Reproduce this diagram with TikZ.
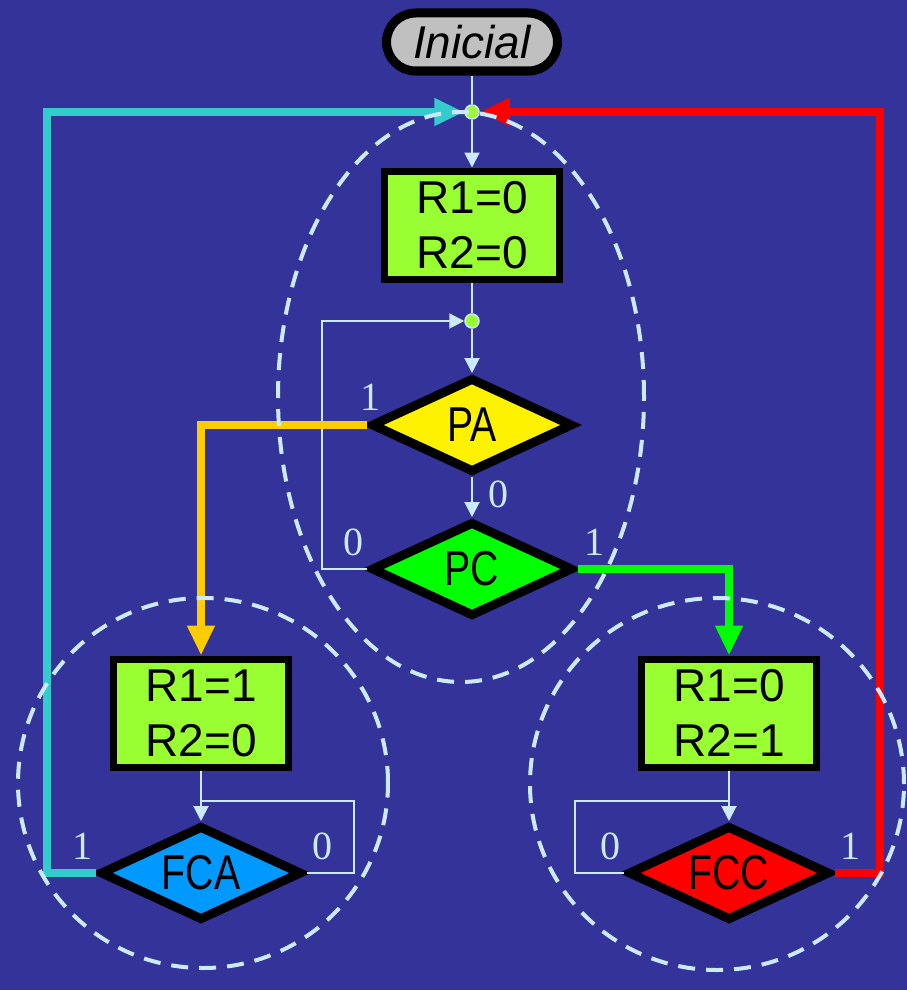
\documentclass[tikz,border=0pt]{standalone}
\usepackage{fontspec}
\setmainfont{Liberation Sans}
\newfontfamily\narrowf[FakeStretch=0.8]{Liberation Sans}
\newfontfamily\serifnum{Liberation Serif}
\usetikzlibrary{shapes.geometric,arrows.meta}
\definecolor{bg}{RGB}{51,51,153}
\definecolor{lblue}{RGB}{204,234,255}
\definecolor{boxgreen}{RGB}{153,255,51}
\definecolor{dotgreen}{RGB}{153,255,51}
\definecolor{pagreen}{RGB}{0,255,0}
\definecolor{fcablue}{RGB}{0,153,255}
\definecolor{tealc}{RGB}{51,204,204}
\definecolor{orangec}{RGB}{255,204,0}
\definecolor{silverc}{RGB}{192,192,192}
\begin{document}
\begin{tikzpicture}[x=1pt,y=-1pt,
  statebox/.style={draw=black, line width=7pt, fill=boxgreen, minimum width=175pt, minimum height=108pt, inner sep=0pt, align=center, font=\fontsize{46}{55}\selectfont},
  dec/.style={diamond, aspect=2.2, draw=black, line width=9pt, minimum width=202pt, minimum height=95pt, inner sep=0pt, font=\narrowf\fontsize{49}{49}\selectfont},
  lbl/.style={text=lblue, font=\serifnum\fontsize{40}{40}\selectfont, inner sep=0pt},
  dot/.style={circle, fill=dotgreen, draw=lblue, line width=1.5pt, minimum size=14pt, inner sep=0pt},
  thinln/.style={draw=lblue, line width=2pt},
  thinarr/.style={thinln, -{Triangle[length=15pt,width=15pt]}},
  thickln/.style={line width=8.5pt, line join=miter},
  dashln/.style={draw=lblue, line width=4pt, dash pattern=on 17pt off 11pt}
]
\fill[bg] (0,0) rectangle (907,990);
\useasboundingbox (0,0) rectangle (907,990);

% nodes
\node[draw=black, line width=9pt, fill=silverc, minimum width=171pt, minimum height=58pt, rounded corners=29pt, inner sep=0pt, font=\itshape\fontsize{46}{46}\selectfont] (ini) at (472,42) {Inicial};
\node[dot] (d1) at (472,112) {};
\node[statebox] (b1) at (472,225) {R1=0\\R2=0};
\node[dot] (d2) at (472,321) {};
\node[dec, fill=yellow] (pa) at (472,425) {PA};
\node[dec, fill=pagreen] (pc) at (472,569) {PC};
\node[statebox] (b2) at (201,713) {R1=1\\R2=0};
\node[statebox] (b3) at (729,713) {R1=0\\R2=1};
\node[dec, fill=fcablue] (fca) at (201,873) {FCA};
\node[dec, fill=red] (fcc) at (729,873) {FCC};

% labels
\node[lbl] (l1) at (370,397) {1};
\node[lbl] (l2) at (498,494) {0};
\node[lbl] (l3) at (353,542) {0};
\node[lbl] (l4) at (594,542) {1};
\node[lbl] (l5) at (82,846) {1};
\node[lbl] (l6) at (322,846) {0};
\node[lbl] (l7) at (610,846) {0};
\node[lbl] (l8) at (850,846) {1};

% coordinates
\coordinate (tl) at (47,112);
\coordinate (tr) at (880,112);
\coordinate (j2) at (201,801);
\coordinate (j3) at (729,801);

% thin connectors
\draw[thinln] (ini.south) -- (d1.north);
\draw[thinarr] (d1.south) -- (b1.north);
\draw[thinln] (b1.south) -- (d2.north);
\draw[thinarr] (d2.south) -- (pa.north);
\draw[thinarr] (pa.south) -- (pc.north);
\draw[thinarr] (pc.west) -- ++(-45,0) |- (d2.west);
\draw[thinarr] (b2.south) -- (fca.north);
\draw[thinln] (fca.east) -- ++(47,0) |- (j2);
\draw[thinarr] (b3.south) -- (fcc.north);
\draw[thinln] (fcc.west) -- ++(-49,0) |- (j3);

% thick connectors
\draw[thickln, draw=orangec, -{Triangle[length=30pt,width=26pt,fill=orangec]}] (pa.west) -| (b2.north);
\draw[thickln, draw=pagreen, -{Triangle[length=30pt,width=26pt,fill=pagreen]}] (pc.east) -| (b3.north);
\draw[thickln, draw=tealc, -{Triangle[length=30pt,width=26pt,fill=tealc]}] (fca.west) -| (tl) -- (d1.west);
\draw[thickln, draw=red, -{Triangle[length=30pt,width=26pt,fill=red]}] (fcc.east) -| (tr) -- (d1.east);

% dashed groups
\draw[dashln] (461,397) ellipse [x radius=183pt, y radius=285pt];
\draw[dashln] (203,783) ellipse [x radius=185pt, y radius=185pt];
\draw[dashln] (717,784) ellipse [x radius=187pt, y radius=186pt];
\end{tikzpicture}
\end{document}
